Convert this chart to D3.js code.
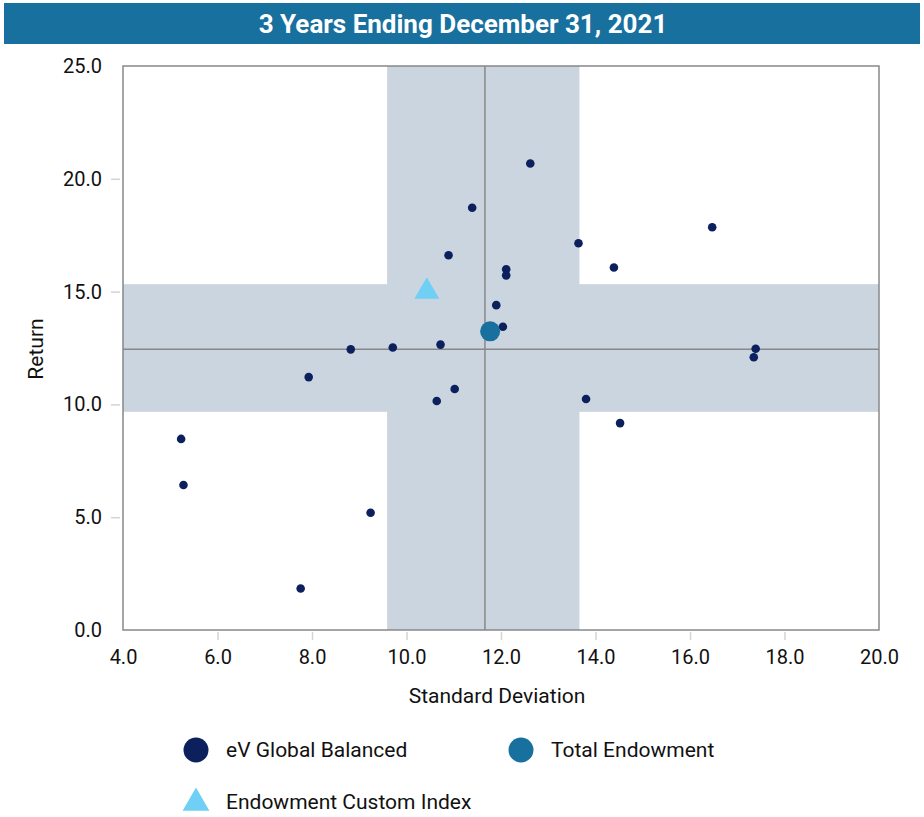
<!DOCTYPE html>
<html>
<head>
<meta charset="utf-8">
<script src="https://cdn.jsdelivr.net/npm/d3@7"></script>
<style>
	body{margin:0;background:#fff;font-family:Roboto, "Liberation Sans", sans-serif;}
	svg text{fill:#111;}
</style>
</head>
<body>
<div id="chart"></div>
<script>
// peer universe (eV Global Balanced): standard deviation / return
const peerSd  = [12.62, 11.39, 16.47, 13.64, 10.89, 14.39, 12.11, 12.11, 11.90, 12.04, 10.72, 9.71, 8.82, 17.39, 17.35, 7.93, 11.02, 10.64, 13.80, 14.52, 5.23, 5.28, 9.24, 7.76];
const peerRet = [20.68, 18.72, 17.85, 17.14, 16.61, 16.07, 15.99, 15.72, 14.40, 13.44, 12.65, 12.52, 12.44, 12.47, 12.09, 11.21, 10.68, 10.15, 10.24, 9.17, 8.47, 6.43, 5.20, 1.84];

const endowment = {sd: 11.77, ret: 13.24};
const customIndex = {sd: 10.43, ret: 15.0};

// shaded inter-quartile bands and medians
const bandSd  = [9.59, 13.66];
const bandRet = [9.67, 15.33];
const medianSd = 11.66;
const medianRet = 12.44;

const xTicks = [4, 6, 8, 10, 12, 14, 16, 18, 20];
const yTicks = [0, 5, 10, 15, 20, 25];

const title = '3 Years Ending December 31, 2021';
const legendItems = ['eV Global Balanced', 'Total Endowment', 'Endowment Custom Index'];

const width = 924, height = 817;
const margin = {t:66, r:45, b:187, l:123};
const w = width - margin.l - margin.r;
const h = height - margin.t - margin.b;

const navy = '#0c205d', teal = '#18709e', sky = '#6fcff4', band = '#cbd5df', frame = '#888';

const svg = d3.select('#chart').append('svg')
	.attr('width', width)
	.attr('height', height);

//Title bar
svg.append('rect')
	.attr('x', 4).attr('y', 3)
	.attr('width', 916).attr('height', 41)
	.style('fill', teal);
svg.append('text')
	.attr('x', 463).attr('y', 33)
	.attr('text-anchor', 'middle')
	.style('font-size', '26px')
	.style('font-weight', 'bold')
	.style('fill', '#fff')
	.text(title);

const plot = svg.append('g')
	.attr('transform', `translate(${margin.l},${margin.t})`);

const scaleX = d3.scaleLinear().domain([4, 20]).range([0, w]);
const scaleY = d3.scaleLinear().domain([0, 25]).range([h, 0]);

//Bands
plot.append('rect')
	.attr('x', scaleX(bandSd[0]))
	.attr('width', scaleX(bandSd[1]) - scaleX(bandSd[0]))
	.attr('y', 0)
	.attr('height', h)
	.style('fill', band);
plot.append('rect')
	.attr('x', 0)
	.attr('width', w)
	.attr('y', scaleY(bandRet[1]))
	.attr('height', scaleY(bandRet[0]) - scaleY(bandRet[1]))
	.style('fill', band);

//Median lines
plot.append('line')
	.attr('x1', scaleX(medianSd)).attr('x2', scaleX(medianSd))
	.attr('y1', 0).attr('y2', h)
	.style('stroke', frame).style('stroke-width', 1.5);
plot.append('line')
	.attr('x1', 0).attr('x2', w)
	.attr('y1', scaleY(medianRet)).attr('y2', scaleY(medianRet))
	.style('stroke', frame).style('stroke-width', 1.5);

//Frame
plot.append('rect')
	.attr('width', w).attr('height', h)
	.style('fill', 'none')
	.style('stroke', frame)
	.style('stroke-width', 1.5);

//Axes
const axisX = d3.axisBottom(scaleX)
	.tickValues(xTicks)
	.tickSize(8)
	.tickPadding(10)
	.tickFormat(d3.format('.1f'));
const axisY = d3.axisLeft(scaleY)
	.tickValues(yTicks)
	.tickSize(9)
	.tickPadding(9)
	.tickFormat(d3.format('.1f'));

const gx = plot.append('g')
	.attr('transform', `translate(0,${h + 2})`)
	.call(axisX);
const gy = plot.append('g')
	.attr('transform', 'translate(-3,0)')
	.call(axisY);
[gx, gy].forEach(g => {
	g.select('.domain').remove();
	g.selectAll('line').style('stroke', '#d4d4d4').style('stroke-width', 1.5);
	g.selectAll('text').style('font-size', '20px').style('font-family', 'Roboto').style('fill', '#111');
});
gx.selectAll('.tick').filter(d => d === 4 || d === 20).select('line').remove();
gy.selectAll('.tick').filter(d => d === 0 || d === 25).select('line').remove();

//Axis titles
svg.append('text')
	.attr('x', margin.l + w / 2 - 4)
	.attr('y', 703)
	.attr('text-anchor', 'middle')
	.style('font-size', '21px')
	.text('Standard Deviation');
svg.append('text')
	.attr('transform', 'translate(43,349) rotate(-90)')
	.attr('text-anchor', 'middle')
	.style('font-size', '21px')
	.text('Return');

//Peer points
plot.selectAll('.peer')
	.data(peerSd.map((sd, i) => ({sd, ret: peerRet[i]})))
	.enter()
	.append('circle')
	.attr('class', 'peer')
	.attr('cx', d => scaleX(d.sd))
	.attr('cy', d => scaleY(d.ret))
	.attr('r', 4.3)
	.style('fill', navy);

//Custom index
const tri = d3.symbol().type(d3.symbolTriangle).size(270);
plot.append('path')
	.attr('d', tri())
	.attr('transform', `translate(${scaleX(customIndex.sd)},${scaleY(customIndex.ret)})`)
	.style('fill', sky);

//Total Endowment
plot.append('circle')
	.attr('cx', scaleX(endowment.sd))
	.attr('cy', scaleY(endowment.ret))
	.attr('r', 10)
	.style('fill', teal);

//Legend
const legend = svg.append('g');
const legendPos = [[196, 750], [521, 750], [196, 802]];
const legendColors = [navy, teal, sky];
legendItems.forEach((label, i) => {
	const [lx, ly] = legendPos[i];
	if(i < 2){
		legend.append('circle')
			.attr('cx', lx).attr('cy', ly).attr('r', 12.5)
			.style('fill', legendColors[i]);
	} else {
		legend.append('path')
			.attr('d', d3.symbol().type(d3.symbolTriangle).size(310)())
			.attr('transform', `translate(${lx},${ly + 1})`)
			.style('fill', legendColors[i]);
	}
	legend.append('text')
		.attr('x', lx + (i === 1 ? 30 : 30))
		.attr('y', ly + 7)
		.style('font-size', '21px')
		.text(label);
});
</script>
</body>
</html>
